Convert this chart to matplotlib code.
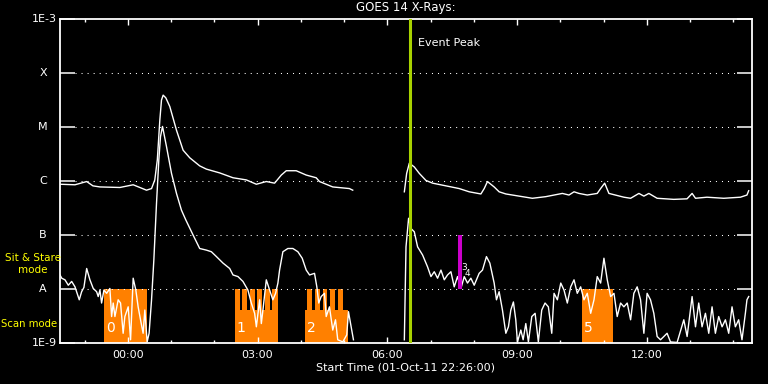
import numpy as np
import matplotlib
matplotlib.use("Agg")
import matplotlib.pyplot as plt
from matplotlib.transforms import blended_transform_factory

# ==============================================================================
# --- DATA : time in minutes after 01-Oct-11 22:26:00, flux as log10(W/m^2) ---
# ==============================================================================
# long channel (1-8 A), before and after the data gap
long_t1 = [0, 20.8, 37.0, 45.7, 55.4, 83.1, 101.5, 120.0, 127.0, 131.5, 135.0, 138.5,
           140.8, 143.1, 146.8, 152.3, 161.6, 170.8, 180.0, 193.8, 203.1, 221.5, 240.0,
           258.5, 272.4, 286.2, 297.7, 307.0, 313.9, 327.7, 341.6, 355.4, 360.0, 378.4,
           401.5, 406.1]
long_f1 = [-6.06, -6.07, -6.01, -6.09, -6.11, -6.12, -6.07, -6.17, -6.14, -5.98, -5.61,
           -4.87, -4.50, -4.41, -4.46, -4.62, -5.06, -5.43, -5.57, -5.72, -5.78, -5.85,
           -5.94, -5.98, -6.06, -6.01, -6.04, -5.89, -5.81, -5.81, -5.89, -5.94, -6.01,
           -6.11, -6.14, -6.17]
long_t2 = [477.7, 480.9, 484.6, 491.5, 498.5, 507.7, 516.9, 535.4, 553.8, 567.7, 583.9,
           588.5, 593.0, 602.3, 609.2, 618.5, 636.9, 655.3, 673.9, 696.9, 706.1, 713.1,
           720.0, 731.5, 745.3, 750.0, 755.6, 761.5, 782.3, 791.6, 803.1, 810.0, 816.9,
           828.4, 851.5, 869.9, 876.9, 881.6, 897.6, 920.8, 943.9, 953.0, 955.4]
long_f2 = [-6.20, -5.86, -5.67, -5.74, -5.86, -5.99, -6.04, -6.09, -6.14, -6.20, -6.24,
           -6.14, -6.01, -6.11, -6.20, -6.24, -6.28, -6.32, -6.29, -6.23, -6.26, -6.20,
           -6.23, -6.26, -6.23, -6.14, -6.04, -6.23, -6.30, -6.32, -6.23, -6.28, -6.23,
           -6.32, -6.34, -6.33, -6.23, -6.32, -6.30, -6.32, -6.30, -6.26, -6.18]

# short channel (0.5-4 A)
short_t1 = [0, 2.4, 6.9, 11.5, 16.2, 20.8, 26.7, 30.0, 33.2, 37.0,
            41.5, 46.1, 50.8, 53.0, 55.4, 57.7, 60.9, 64.7, 69.2, 71.6,
            73.8, 76.2, 80.7, 84.0, 87.6, 90.0, 94.6, 97.9, 101.5, 105.2,
            108.4, 111.7, 115.3, 117.7, 120.9, 123.6, 127.0, 130.2, 133.9, 137.1,
            139.4, 142.2, 147.7, 154.7, 161.6, 168.5, 174.5, 184.6, 193.8, 203.1,
            210.0, 217.0, 226.1, 235.4, 240.0, 246.9, 253.8, 260.7, 265.4, 270.0,
            272.4, 277.0, 279.3, 281.5, 286.2, 290.8, 295.3, 299.1, 302.3, 304.6,
            309.2, 316.1, 323.1, 330.0, 336.0, 341.6, 346.2, 353.1, 356.3, 359.0,
            362.3, 366.9, 369.3, 373.8, 378.4, 382.2, 385.3, 392.3, 397.8, 400.2,
            403.9, 407.1]
short_f1 = [-7.74, -7.80, -7.83, -7.93, -7.86, -7.96, -8.20, -8.05, -7.97, -7.62,
            -7.83, -7.99, -8.05, -8.14, -8.02, -8.26, -8.02, -8.08, -7.99, -8.51,
            -8.26, -8.51, -8.20, -8.26, -8.82, -8.51, -8.33, -8.94, -7.80, -8.02,
            -8.33, -8.57, -8.82, -8.39, -8.98, -8.82, -8.20, -7.46, -6.41, -5.61,
            -5.18, -4.99, -5.36, -5.86, -6.23, -6.54, -6.72, -7.00, -7.25, -7.28,
            -7.31, -7.40, -7.52, -7.62, -7.74, -7.77, -7.86, -8.02, -8.26, -8.45,
            -8.70, -8.20, -8.64, -8.39, -7.83, -8.02, -8.20, -8.08, -7.89, -7.65,
            -7.31, -7.25, -7.25, -7.31, -7.43, -7.65, -7.74, -7.71, -7.96, -8.26,
            -8.14, -8.08, -8.51, -8.33, -8.76, -8.57, -8.94, -8.98, -8.85, -8.42,
            -8.70, -8.94]
short_t2 = [477.7, 480.0, 483.6, 486.9, 491.5, 496.1, 503.0, 509.9, 514.6, 519.2,
            523.8, 528.5, 533.1, 537.6, 542.3, 546.9, 551.5, 556.2, 560.8, 565.3,
            570.0, 574.6, 581.5, 586.1, 591.6, 596.3, 602.3, 605.5, 609.2, 613.8,
            618.5, 622.1, 625.4, 629.0, 632.3, 634.6, 639.3, 642.5, 646.2, 649.8,
            654.5, 659.1, 663.6, 668.3, 672.9, 677.5, 682.2, 685.4, 690.0, 694.7,
            699.2, 703.8, 708.5, 713.1, 717.6, 722.3, 726.9, 731.5, 736.2, 740.8,
            745.3, 750.0, 754.6, 759.2, 763.9, 768.5, 773.0, 777.7, 782.3, 786.9,
            791.6, 796.1, 800.7, 805.4, 810.0, 814.5, 819.2, 823.8, 828.4, 833.1,
            837.7, 842.2, 846.9, 856.1, 865.4, 870.0, 876.9, 881.6, 886.1, 890.7,
            895.4, 900.0, 904.6, 909.2, 913.8, 918.5, 923.1, 927.7, 932.3, 936.9,
            941.5, 946.1, 950.8, 953.0, 955.4]
short_f2 = [-8.94, -7.22, -6.69, -6.88, -6.94, -7.22, -7.37, -7.59, -7.77, -7.68,
            -7.80, -7.65, -7.83, -7.74, -7.68, -7.96, -7.77, -7.99, -7.77, -7.89,
            -7.80, -7.93, -7.71, -7.65, -7.40, -7.52, -7.89, -8.20, -8.05, -8.39,
            -8.82, -8.70, -8.39, -8.24, -8.57, -8.98, -8.76, -8.94, -8.64, -8.98,
            -8.51, -8.45, -8.98, -8.39, -8.26, -8.33, -8.82, -8.08, -8.20, -7.89,
            -8.02, -8.26, -7.96, -7.83, -8.08, -7.96, -8.20, -8.08, -8.45, -8.20,
            -7.77, -7.89, -7.43, -7.83, -8.14, -8.08, -8.51, -8.26, -8.33, -8.26,
            -8.57, -8.08, -7.96, -8.20, -8.82, -8.08, -8.20, -8.45, -8.88, -8.94,
            -8.88, -8.82, -8.98, -8.99, -8.57, -8.88, -8.14, -8.70, -8.26, -8.70,
            -8.45, -8.82, -8.33, -8.82, -8.51, -8.70, -8.57, -8.82, -8.33, -8.70,
            -8.57, -8.94, -8.45, -8.20, -8.14]

# scan mode segments (start, end in minutes, top level log10)
scan_start = [60.9, 242.3, 249.2, 252.4, 259.3, 263.1, 270.0, 273.7, 280.7, 283.8, 290.8, 294.6,
              339.2, 343.0, 349.4, 354.0, 360.0, 364.6, 370.7, 375.2, 381.7, 386.3, 392.8,
              724.2]
scan_end = [120.9, 249.2, 252.4, 259.3, 263.1, 270.0, 273.7, 280.7, 283.8, 290.8, 294.6, 301.8,
            343.0, 349.4, 354.0, 360.0, 364.6, 370.7, 375.2, 381.7, 386.3, 392.8, 399.2,
            767.1]
scan_level = [-8.0, -8.0, -8.39, -8.0, -8.39, -8.0, -8.39, -8.0, -8.39, -8.0, -8.39, -8.0,
              -8.39, -8.0, -8.39, -8.0, -8.39, -8.0, -8.39, -8.0, -8.39, -8.0, -8.39,
              -8.0]
scan_ids = ["0", "1", "2", "5"]
scan_id_t = [60.9, 242.3, 339.2, 724.2]

event_peak_t = 486.0
marker_t = 555.2  # magenta bar, 1E-8 .. 1E-7

level_names = ["1E-9", "A", "B", "C", "M", "X", "1E-3"]
level_vals = [1e-9, 1e-8, 1e-7, 1e-6, 1e-5, 1e-4, 1e-3]

major_t = [94, 274, 454, 634, 814]
major_lbl = ["00:00", "03:00", "06:00", "09:00", "12:00"]
minor_t = [34 + 60 * k for k in range(16)]

ORANGE = "#ff8000"
PEAK_GREEN = "#a8d200"
MAGENTA = "#cc00cc"

# ==============================================================================
# --- FIGURE ---
# ==============================================================================
fig = plt.figure(figsize=(7.68, 3.84), dpi=100, facecolor="black")
W, H = 768, 384
ax = fig.add_axes([60 / W, 41 / H, 692 / W, 324 / H], facecolor="black")
ax.set_yscale("log")
ax.set_xlim(0, 960)
ax.set_ylim(1e-9, 1e-3)

for s, e, lv in zip(scan_start, scan_end, scan_level):
    ax.fill_between([s, e], 1e-9, 10 ** lv, color=ORANGE, lw=0, zorder=1)
for lbl, t in zip(scan_ids, scan_id_t):
    ax.text(t + 3, 10 ** -8.73, lbl, color="white", fontsize=10, ha="left", va="center", zorder=4)

# dotted level lines
for lv in level_vals[1:-1]:
    ax.axhline(lv, xmin=15 / 692, xmax=677 / 692, color="white", lw=0.75,
               ls=(0, (1, 4.8)), zorder=2)

ax.plot(long_t1, 10 ** np.array(long_f1), color="white", lw=1, zorder=3)
ax.plot(long_t2, 10 ** np.array(long_f2), color="white", lw=1, zorder=3)
ax.plot(short_t1, 10 ** np.array(short_f1), color="white", lw=1, zorder=3)
ax.plot(short_t2, 10 ** np.array(short_f2), color="white", lw=1, zorder=3)

ax.axvline(event_peak_t, color=PEAK_GREEN, lw=2.2, zorder=5)
ax.text(event_peak_t + 11, 10 ** -3.44, "Event Peak", color="white", fontsize=8, va="center")

# flare ids 3 and 4 sit almost on top of each other next to the magenta bar
ax.vlines(marker_t, 1e-8, 1e-7, color=MAGENTA, lw=2.9, zorder=5)
ax.text(marker_t + 1, 10 ** -7.60, "3", color="white", fontsize=6.5, va="center", zorder=6)
ax.text(marker_t + 6, 10 ** -7.72, "4", color="white", fontsize=6.5, va="center", zorder=6)

# axes styling
for sp in ax.spines.values():
    sp.set_color("white")
    sp.set_linewidth(1.3)

ax.set_xticks(major_t)
ax.set_xticklabels(major_lbl)
ax.set_xticks(minor_t, minor=True)
ax.tick_params(axis="x", which="major", direction="in", length=4.3, width=1, top=True,
               bottom=True, colors="white", labelsize=8, pad=5)
ax.tick_params(axis="x", which="minor", direction="in", length=2.4, width=1, top=True,
               bottom=True, colors="white")

ax.set_yticks(level_vals)
ax.set_yticklabels([])
ax.yaxis.set_minor_locator(matplotlib.ticker.NullLocator())
ax.tick_params(axis="y", which="major", direction="in", length=10.8, width=1.1, left=True,
               right=True, colors="white")

ytr = blended_transform_factory(ax.transAxes, ax.transData)
for name, lv in zip(level_names, level_vals):
    if name.startswith("1E"):
        ax.text(-3 / 692, lv, name, transform=ytr, color="white", fontsize=8,
                ha="right", va="center", clip_on=False)
    else:
        ax.text(-17 / 692, lv, name, transform=ytr, color="white", fontsize=8,
                ha="center", va="center", clip_on=False)

fig.text(406 / W, 1 - 8 / H, "GOES 14 X-Rays:", color="white", fontsize=8.5,
         ha="center", va="center")
fig.text(406 / W, 1 - 368 / H, "Start Time (01-Oct-11 22:26:00)", color="white",
         fontsize=8, ha="center", va="center")

fig.text(33 / W, 1 - 258 / H, "Sit & Stare", color="yellow", fontsize=7.5, ha="center", va="center")
fig.text(33 / W, 1 - 270 / H, "mode", color="yellow", fontsize=7.5, ha="center", va="center")
fig.text(29 / W, 1 - 324 / H, "Scan mode", color="yellow", fontsize=7.3, ha="center", va="center")

fig.savefig("out.png", dpi=100, facecolor="black")
